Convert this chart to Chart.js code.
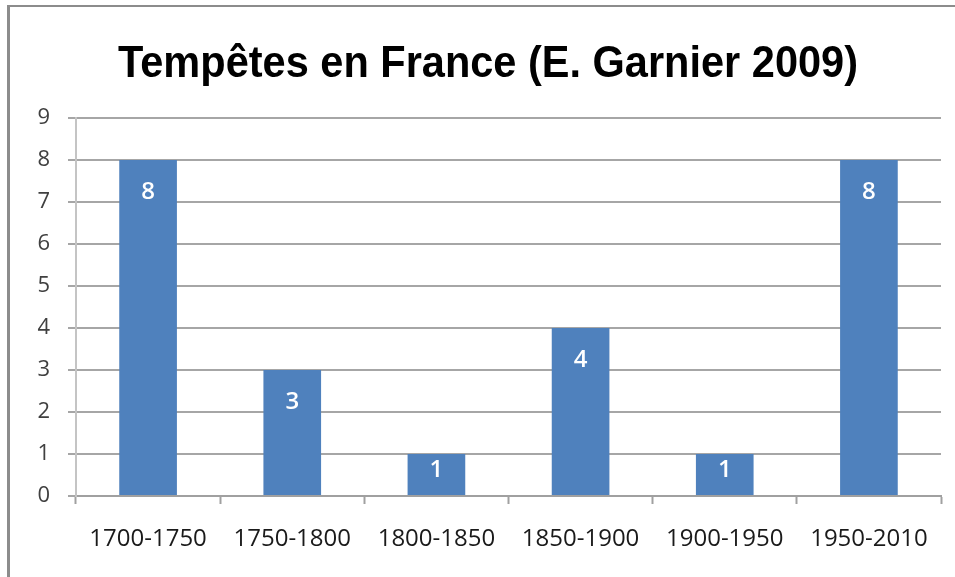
<!DOCTYPE html>
<html lang="fr">
<head>
    <meta charset="UTF-8">
    <title>Tempêtes en France (E. Garnier 2009)</title>
    <script src="https://cdn.jsdelivr.net/npm/chart.js@4.4.1/dist/chart.umd.min.js"></script>
    <style>
        body {
            margin: 0;
            background-color: #fff;
        }

        #wrap {
            position: relative;
            width: 955px;
            height: 577px;
        }

        #frame {
            position: absolute;
            left: 7px;
            top: 5px;
            right: 0;
            bottom: 0;
            border-top: 2px solid #8c8c8c;
            border-left: 3px solid #8c8c8c;
            pointer-events: none;
        }
    </style>
</head>
<body>
    <div id="wrap">
        <canvas id="stormChart" width="955" height="577"></canvas>
        <div id="frame"></div>
    </div>

    <script>
        const chartTitle = 'Tempêtes en France (E. Garnier 2009)';
        const periods = ['1700-1750', '1750-1800', '1800-1850', '1850-1900', '1900-1950', '1950-2010'];
        const stormCounts = [8, 3, 1, 4, 1, 8];
        const yMin = 0;
        const yMax = 9;
        const yStep = 1;

        // title drawn by hand so it can sit slightly right of centre and be squeezed like the Calibri original
        const chartHeading = {
            id: 'chartHeading',
            afterDraw(chart) {
                const ctx = chart.ctx;
                ctx.save();
                ctx.font = 'bold 44px "Liberation Sans"';
                ctx.fillStyle = '#000';
                ctx.textAlign = 'center';
                ctx.textBaseline = 'alphabetic';
                const w = ctx.measureText(chartTitle).width;
                const sx = Math.min(1, 740 / w);
                ctx.translate(488, 77);
                ctx.scale(sx, 1);
                ctx.fillText(chartTitle, 0, 0);
                ctx.restore();
            }
        };

        // white value labels inside the top of each bar
        const barLabels = {
            id: 'barLabels',
            afterDatasetsDraw(chart) {
                const ctx = chart.ctx;
                const meta = chart.getDatasetMeta(0);
                ctx.save();
                ctx.font = '600 24px "Open Sans"';
                ctx.fillStyle = '#fff';
                ctx.textAlign = 'center';
                ctx.textBaseline = 'alphabetic';
                meta.data.forEach((bar, i) => {
                    const h = bar.base - bar.y;
                    const y = bar.y + Math.min(38.5, h * 0.57);
                    ctx.fillText(String(stormCounts[i]), bar.x, y);
                });
                ctx.restore();
            }
        };

        const ctx = document.getElementById('stormChart').getContext('2d');
        const stormChart = new Chart(ctx, {
            type: 'bar',
            data: {
                labels: periods,
                datasets: [{
                    data: stormCounts,
                    backgroundColor: '#4f81bd',
                    borderWidth: 0,
                    categoryPercentage: 1.0,
                    barPercentage: 0.4
                }]
            },
            options: {
                responsive: false,
                devicePixelRatio: 1,
                animation: false,
                layout: {
                    padding: { left: 0, right: 14, top: 118, bottom: 0 }
                },
                plugins: {
                    legend: { display: false },
                    tooltip: { enabled: false },
                    title: { display: false }
                },
                scales: {
                    x: {
                        afterFit(scale) { scale.height = 81; },
                        grid: {
                            offset: true,
                            drawOnChartArea: false,
                            tickLength: 8,
                            tickColor: '#a0a0a0',
                            tickWidth: 2
                        },
                        border: { color: '#a0a0a0', width: 2 },
                        ticks: {
                            color: '#1a1a1a',
                            padding: 21,
                            maxRotation: 0,
                            font: { family: "'Open Sans'", size: 24 }
                        }
                    },
                    y: {
                        min: yMin,
                        max: yMax,
                        afterFit(scale) { scale.width = 76; },
                        grid: {
                            color: '#a6a6a6',
                            lineWidth: 2,
                            tickLength: 8
                        },
                        border: { color: '#c4c4c4', width: 2 },
                        ticks: {
                            stepSize: yStep,
                            color: '#404040',
                            padding: 18,
                            font: { family: "'Open Sans'", size: 22 }
                        }
                    }
                }
            },
            plugins: [barLabels, chartHeading]
        });
    </script>
</body>
</html>
